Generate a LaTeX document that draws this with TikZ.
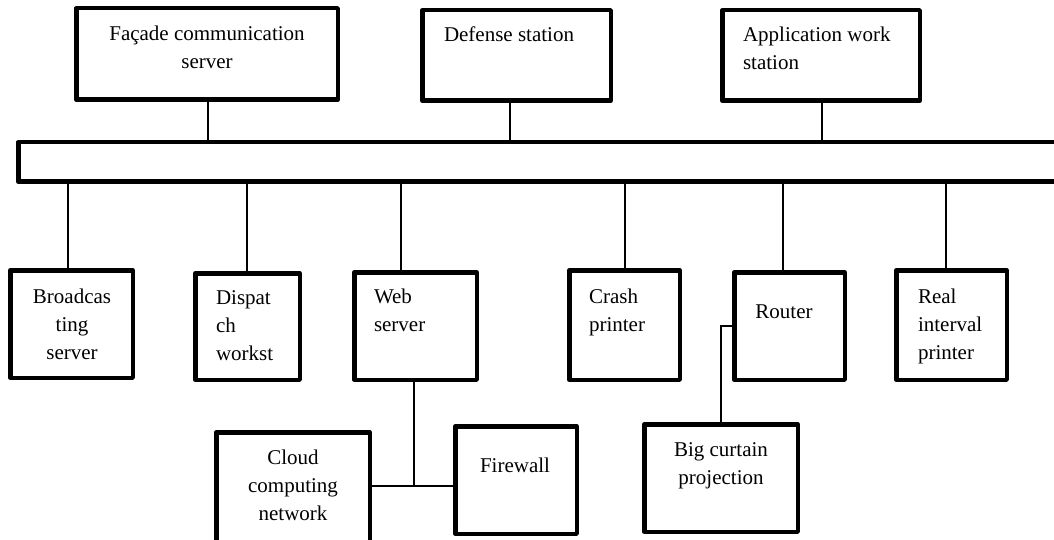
\documentclass[tikz,border=0pt]{standalone}
\usepackage{fontspec}
\setmainfont{Liberation Serif}
\begin{document}
\begin{tikzpicture}[x=1pt,y=-1pt,
  box/.style={draw=black,line width=4.5pt,rectangle,inner sep=0pt,outer sep=0pt,line join=round},
  link/.style={draw=black,line width=1.6pt},
  lbl/.style={inner sep=0pt,outer sep=0pt,font=\fontsize{21}{28}\selectfont}]
\useasboundingbox (0,0) rectangle (1054,540);
\newcommand{\ltext}[1]{\begin{tabular}[t]{@{}l@{}}#1\end{tabular}}
\newcommand{\ctext}[1]{\begin{tabular}[t]{@{}c@{}}#1\end{tabular}}

% upper row of stations
\node[box,minimum width=261.5pt,minimum height=91.5pt] (facade) at (207,54) {};
\node[box,minimum width=188.5pt,minimum height=90.5pt] (defense) at (516.5,55.5) {};
\node[box,minimum width=197.5pt,minimum height=90.5pt] (app) at (821,55.5) {};

% network bus, running off the right edge
\node[box,minimum width=1049.5pt,minimum height=39.5pt] (bus) at (543,162) {};

% lower row of stations
\node[box,minimum width=122.5pt,minimum height=107.5pt] (broad) at (71.5,324) {};
\node[box,minimum width=104.5pt,minimum height=106.5pt] (dispatch) at (247.5,326.5) {};
\node[box,minimum width=122.5pt,minimum height=107.5pt] (web) at (415.5,326) {};
\node[box,minimum width=110.5pt,minimum height=109.5pt] (crash) at (624.5,325) {};
\node[box,minimum width=110.5pt,minimum height=107.5pt] (router) at (789.5,326) {};
\node[box,minimum width=110.5pt,minimum height=109.5pt] (real) at (951.5,325) {};

% devices behind the web server and the router
\node[box,minimum width=153.5pt,minimum height=117.5pt] (cloud) at (293,491) {};
\node[box,minimum width=121.5pt,minimum height=107.5pt] (firewall) at (516,480) {};
\node[box,minimum width=153.5pt,minimum height=107.5pt] (bigc) at (721,478) {};

% labels
\node[lbl,anchor=base] (tfacade) at (207,41) {\ctext{Façade communication\\server}};
\node[lbl,anchor=base west] (tdefense) at (444,42) {\ltext{Defense station}};
\node[lbl,anchor=base west] (tapp) at (743,42) {\ltext{Application work\\station}};
\node[lbl,anchor=base] (tbroad) at (72,303) {\ctext{Broadcas\\ting\\server}};
\node[lbl,anchor=base west] (tdispatch) at (216,304) {\ltext{Dispat\\ch\\workst}};
\node[lbl,anchor=base west] (tweb) at (374,303) {\ltext{Web\\server}};
\node[lbl,anchor=base west] (tcrash) at (589,303) {\ltext{Crash\\printer}};
\node[lbl,anchor=base] (trouter) at (784,318) {Router};
\node[lbl,anchor=base west] (treal) at (918,303) {\ltext{Real\\interval\\printer}};
\node[lbl,anchor=base] (tcloud) at (293,464) {\ctext{Cloud\\computing\\network}};
\node[lbl,anchor=base west] (tfirewall) at (480,472) {Firewall};
\node[lbl,anchor=base] (tbigc) at (721,456) {\ctext{Big curtain\\projection}};

% stations above the bus
\draw[link] (facade.south -| 208,0) -- (bus.north -| 208,0);
\draw[link] (defense.south -| 510,0) -- (bus.north -| 510,0);
\draw[link] (app.south -| 822,0) -- (bus.north -| 822,0);

% stations below the bus
\draw[link] (bus.south -| 68,0) -- (broad.north -| 68,0);
\draw[link] (bus.south -| 247,0) -- (dispatch.north -| 247,0);
\draw[link] (bus.south -| 401,0) -- (web.north -| 401,0);
\draw[link] (bus.south -| 625,0) -- (crash.north -| 625,0);
\draw[link] (bus.south -| 783,0) -- (router.north -| 783,0);
\draw[link] (bus.south -| 946,0) -- (real.north -| 946,0);

% web server branch
\coordinate (jn) at (414,486);
\draw[link] (web.south -| jn) -- (jn);
\draw[link] (cloud.east |- jn) -- (firewall.west |- jn);

% router branch
\draw[link] (router.west |- 0,326) -| (bigc.north);
\end{tikzpicture}
\end{document}
